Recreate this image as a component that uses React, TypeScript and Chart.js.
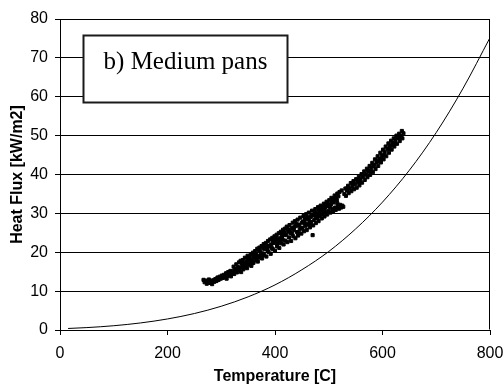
import React, { useEffect, useRef } from "react";
import { Chart, registerables } from "chart.js";

Chart.register(...registerables);

const xTickValues = [0, 200, 400, 600, 800];
const yTickValues = [0, 10, 20, 30, 40, 50, 60, 70, 80];
const xTitle = "Temperature [C]";
const yTitle = "Heat Flux [kW/m2]";
const panelLabel = "b) Medium pans";

// Reference curve (thin line)
const curveTemps = [15, 50, 100, 150, 200, 250, 300, 350, 400, 450, 500, 550, 600, 650, 700, 750, 800];
const curveFlux = [0.39, 0.62, 1.1, 1.82, 2.84, 4.24, 6.11, 8.53, 11.6, 15.5, 20.2, 26.0, 32.9, 41.1, 50.8, 62.2, 75.2];

// Measured points: [temperature, heat flux]
const tailPoints: [number, number][] = [
  [267, 12.9], [269, 12.3], [271, 12.7], [273, 11.9], [275, 12.4], [277, 13.0], [279, 12.1], [281, 12.6],
  [283, 11.8], [285, 12.8], [287, 12.4], [289, 13.1], [291, 12.6], [293, 13.5], [295, 12.9], [297, 13.7],
  [299, 13.2], [301, 14.0], [303, 13.4], [305, 14.2], [307, 13.6], [309, 14.6], [311, 13.9], [313, 14.9],
  [315, 14.2], [317, 15.2], [319, 14.5], [318, 13.8], [310, 13.2],
];

const lowerBandPoints: [number, number][] = [
  [321, 15.1], [323, 16.3], [324, 14.4], [327, 15.7], [328, 16.9], [329, 14.8], [331, 16.2], [333, 17.4],
  [333, 15.3], [335, 16.0], [336, 17.8], [337, 14.9], [339, 16.6], [340, 18.0], [341, 15.6], [343, 17.2],
  [344, 18.6], [345, 16.1], [347, 17.6], [348, 15.9], [349, 19.1], [351, 16.8], [352, 18.3], [353, 17.4],
  [355, 19.5], [356, 16.5], [357, 18.0], [359, 19.9], [360, 17.3], [361, 18.8], [363, 20.3], [364, 17.9],
  [365, 19.4], [367, 20.9], [368, 17.6], [369, 19.0], [371, 21.2], [372, 18.6], [373, 20.1], [375, 21.6],
  [376, 18.4], [377, 19.7], [379, 22.1], [380, 19.3], [381, 20.8], [383, 22.4], [384, 18.9], [385, 21.3],
  [387, 22.9], [388, 20.1], [389, 21.7], [391, 23.3], [392, 19.6], [393, 22.0], [395, 23.7], [396, 20.8],
  [397, 22.4], [399, 24.1], [400, 20.4], [401, 22.8], [403, 24.5], [404, 21.5], [405, 23.3], [407, 24.9],
  [408, 21.1], [409, 23.6], [411, 25.3], [412, 22.3], [413, 24.0], [415, 25.8], [416, 22.0], [417, 24.5],
  [419, 26.1], [419, 23.0], [325, 15.4], [332, 15.9], [338, 17.2], [346, 17.0], [354, 18.8], [362, 19.6],
  [370, 20.5], [378, 21.0], [386, 20.6], [394, 21.1], [402, 23.9], [410, 22.9], [418, 25.1], [366, 18.5],
  [358, 17.2], [350, 18.2], [342, 16.4], [390, 21.5], [398, 23.1], [406, 22.4], [414, 23.3],
  [374, 19.2], [382, 21.6], [396, 22.9], [404, 22.1], [412, 24.8],
];

const midBandPoints: [number, number][] = [
  [421, 24.4], [422, 26.6], [423, 22.6], [425, 25.3], [426, 23.8], [427, 27.0], [429, 24.9], [430, 22.9],
  [431, 26.2], [433, 27.6], [434, 24.1], [435, 25.7], [437, 28.0], [438, 23.6], [439, 26.8], [441, 25.2],
  [442, 28.4], [443, 24.3], [445, 27.1], [446, 25.9], [447, 28.9], [449, 24.8], [450, 27.6], [451, 26.3],
  [453, 29.3], [454, 25.4], [455, 28.0], [457, 26.8], [458, 29.8], [459, 25.7], [461, 28.6], [462, 27.2],
  [463, 30.2], [465, 26.4], [466, 29.1], [467, 27.8], [469, 30.7], [470, 24.4], [471, 26.9], [472, 29.5],
  [473, 28.3], [475, 31.1], [476, 27.5], [477, 30.0], [479, 28.8], [480, 31.6], [481, 28.0], [483, 30.5],
  [484, 29.3], [485, 32.0], [487, 28.7], [488, 31.0], [489, 29.8], [491, 32.5], [492, 29.2], [493, 31.4],
  [495, 30.3], [496, 33.0], [497, 29.7], [499, 31.9], [500, 30.7], [501, 33.4], [503, 30.2], [504, 32.3],
  [505, 34.0], [507, 31.2], [508, 30.5], [509, 32.8], [511, 34.6], [512, 31.5], [513, 30.9], [515, 33.4],
  [516, 35.1], [517, 31.8], [519, 31.2], [520, 35.5], [521, 32.2], [523, 31.5], [524, 35.9], [525, 32.0],
  [527, 31.7], [428, 25.6], [436, 26.5], [444, 26.9], [452, 27.9], [460, 29.0], [468, 29.4], [474, 30.3],
  [482, 30.9], [490, 31.6], [498, 32.6], [506, 33.1], [514, 33.9], [518, 34.4], [444, 25.0], [456, 27.3],
  [464, 28.0], [478, 29.5], [486, 30.6], [494, 32.0], [502, 31.6], [510, 33.7],
  [424, 25.9], [432, 24.8], [440, 27.3], [448, 26.2], [456, 28.7], [466, 27.0], [476, 28.9], [484, 31.2],
  [492, 30.4], [500, 32.1], [508, 33.6], [516, 32.6],
];

const upperBandPoints: [number, number][] = [
  [529, 35.0], [531, 36.4], [532, 34.5], [534, 35.9], [536, 37.1], [537, 35.2], [539, 36.4], [541, 37.8],
  [542, 35.7], [544, 36.9], [546, 38.3], [547, 36.2], [549, 37.5], [551, 38.8], [552, 36.6], [554, 38.0],
  [556, 39.4], [557, 37.2], [559, 38.7], [561, 40.1], [562, 37.9], [564, 39.4], [566, 40.8], [567, 38.6],
  [569, 40.0], [571, 41.5], [572, 39.3], [574, 40.8], [576, 42.2], [577, 39.9], [579, 41.6], [581, 43.0],
  [582, 40.6], [584, 42.4], [586, 43.9], [587, 41.4], [589, 43.1], [591, 44.7], [592, 42.2], [594, 44.0],
  [596, 45.6], [597, 43.1], [599, 44.8], [601, 46.4], [602, 43.9], [604, 45.7], [606, 47.2], [607, 44.7],
  [609, 46.5], [611, 48.0], [612, 45.6], [614, 47.3], [616, 48.7], [617, 46.4], [619, 48.1], [621, 49.3],
  [622, 47.2], [624, 48.8], [626, 50.0], [627, 47.9], [629, 49.4], [631, 50.5], [632, 48.6], [634, 49.9],
  [636, 51.2], [637, 49.3], [639, 50.6], [535, 36.6], [545, 37.5], [553, 38.6], [563, 39.9], [573, 41.0],
  [583, 42.2], [593, 43.4], [603, 45.0], [613, 46.6], [623, 48.0], [633, 49.6], [558, 38.0], [578, 40.8],
  [598, 44.0], [618, 47.6],
];

const SANS = '"Liberation Sans", Arial, sans-serif';
const SERIF = '"Liberation Serif", "Times New Roman", serif';

const framePlugin = {
  id: "frameAndLabel",
  afterDraw(chart: any) {
    const { ctx, chartArea: a } = chart;
    ctx.save();
    ctx.strokeStyle = "#000";
    ctx.lineWidth = 1;
    const l = Math.round(a.left) + 0.5;
    const t = Math.round(a.top) + 0.5;
    const r = Math.round(a.right) - 0.5;
    const b = Math.round(a.bottom) - 0.5;
    ctx.beginPath();
    ctx.moveTo(l, t);
    ctx.lineTo(r, t);
    ctx.lineTo(r, b);
    ctx.stroke();

    // panel label box
    const bx = 83.5, by = 35.5, bw = 204, bh = 67;
    ctx.fillStyle = "#fff";
    ctx.fillRect(bx, by, bw, bh);
    ctx.strokeStyle = "#1a1a1a";
    ctx.lineWidth = 2;
    ctx.strokeRect(bx, by, bw, bh);
    ctx.fillStyle = "#000";
    ctx.font = `25px ${SERIF}`;
    ctx.textAlign = "center";
    ctx.textBaseline = "alphabetic";
    ctx.fillText(panelLabel, bx + bw / 2, 69);
    ctx.restore();
  },
};

const toXY = (pts: [number, number][]) => pts.map(([x, y]) => ({ x, y }));

export default function App() {
  const ref = useRef<HTMLCanvasElement | null>(null);

  useEffect(() => {
    if (!ref.current) return;
    const points = [
      ...toXY(tailPoints),
      ...toXY(lowerBandPoints),
      ...toXY(midBandPoints),
      ...toXY(upperBandPoints),
    ];
    const curve = curveTemps.map((t, i) => ({ x: t, y: curveFlux[i] }));

    const chart = new Chart(ref.current, {
      type: "scatter",
      data: {
        datasets: [
          {
            data: curve,
            showLine: true,
            borderColor: "#000",
            borderWidth: 1,
            pointRadius: 0,
            cubicInterpolationMode: "monotone",
            fill: false,
          } as any,
          {
            data: points,
            pointStyle: "rect",
            pointRadius: 2.2,
            pointBackgroundColor: "#000",
            pointBorderColor: "#000",
            pointBorderWidth: 1,
            showLine: false,
          } as any,
        ],
      },
      options: {
        responsive: false,
        animation: false,
        layout: { padding: { top: 19, right: 14, left: 0, bottom: 0 } },
        plugins: {
          legend: { display: false },
          tooltip: { enabled: false },
        },
        scales: {
          x: {
            type: "linear",
            min: 0,
            max: 800,
            afterFit: (s: any) => {
              s.height = 58;
              s.paddingLeft = 0;
              s.paddingRight = 0;
            },
            afterBuildTicks: (s: any) => {
              s.ticks = xTickValues.map((v) => ({ value: v }));
            },
            grid: {
              display: true,
              drawOnChartArea: false,
              drawTicks: true,
              tickLength: 5,
              color: "#000",
            },
            border: { display: true, color: "#000", width: 1 },
            ticks: {
              color: "#000",
              font: { family: SANS, size: 16 },
              padding: 9,
              maxRotation: 0,
            },
            title: {
              display: true,
              text: xTitle,
              color: "#000",
              font: { family: SANS, size: 16, weight: "bold" },
              padding: { top: 0, bottom: 2 },
            },
          },
          y: {
            type: "linear",
            min: 0,
            max: 80,
            afterFit: (s: any) => {
              s.width = 60;
              s.paddingTop = 0;
              s.paddingBottom = 0;
            },
            afterBuildTicks: (s: any) => {
              s.ticks = yTickValues.map((v) => ({ value: v }));
            },
            grid: {
              display: true,
              drawOnChartArea: true,
              drawTicks: true,
              tickLength: 5,
              color: "#000",
            },
            border: { display: true, color: "#000", width: 1 },
            ticks: {
              color: "#000",
              font: { family: SANS, size: 16 },
              padding: 7,
            },
            title: {
              display: true,
              text: yTitle,
              color: "#000",
              font: { family: SANS, size: 16, weight: "bold" },
              padding: { top: 8, bottom: 0 },
            },
          },
        },
      } as any,
      plugins: [framePlugin],
    });
    return () => chart.destroy();
  }, []);

  return (
    <div style={{ position: "fixed", left: 0, top: 0, width: 504, height: 388, background: "#fff" }}>
      <canvas ref={ref} width={504} height={388} style={{ width: 504, height: 388, display: "block" }} />
    </div>
  );
}
